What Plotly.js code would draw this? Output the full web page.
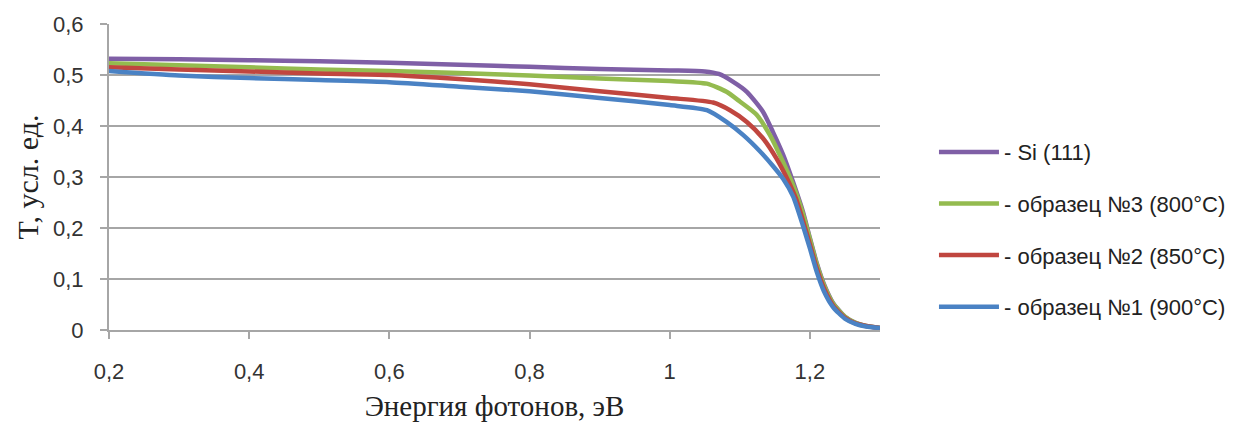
<!DOCTYPE html>
<html>
<head>
<meta charset="utf-8">
<script src="https://cdn.plot.ly/plotly-3.0.1.min.js"></script>
<style>html,body{margin:0;padding:0;background:#fff;}#chart{width:1243px;height:434px;}</style>
</head>
<body>
<div id="chart"></div>
<script>
const energySi = [0.2, 0.3, 0.4, 0.5, 0.6, 0.7, 0.8, 0.9, 1.0, 1.05, 1.07, 1.09, 1.11, 1.133, 1.147, 1.162, 1.176, 1.19, 1.2, 1.21, 1.22, 1.233, 1.25, 1.265, 1.28, 1.3];
const si111 = [0.532, 0.531, 0.529, 0.527, 0.524, 0.520, 0.516, 0.512, 0.509, 0.507, 0.502, 0.487, 0.467, 0.428, 0.389, 0.343, 0.290, 0.232, 0.180, 0.130, 0.090, 0.053, 0.026, 0.014, 0.008, 0.004];
const energy3 = [0.2, 0.3, 0.4, 0.5, 0.6, 0.7, 0.8, 0.9, 1.0, 1.053, 1.081, 1.1, 1.124, 1.143, 1.157, 1.176, 1.19, 1.2, 1.21, 1.22, 1.233, 1.25, 1.265, 1.28, 1.3];
const sample3 = [0.523, 0.519, 0.515, 0.511, 0.508, 0.504, 0.499, 0.493, 0.488, 0.483, 0.467, 0.448, 0.422, 0.382, 0.343, 0.284, 0.228, 0.178, 0.128, 0.088, 0.052, 0.026, 0.014, 0.008, 0.004];
const energy2 = [0.2, 0.3, 0.4, 0.5, 0.6, 0.7, 0.8, 0.9, 1.0, 1.062, 1.086, 1.11, 1.133, 1.152, 1.167, 1.18, 1.19, 1.2, 1.21, 1.22, 1.233, 1.25, 1.265, 1.28, 1.3];
const sample2 = [0.515, 0.511, 0.507, 0.503, 0.500, 0.492, 0.482, 0.468, 0.455, 0.446, 0.431, 0.408, 0.376, 0.337, 0.298, 0.258, 0.215, 0.168, 0.120, 0.082, 0.048, 0.024, 0.013, 0.008, 0.004];
const energy1 = [0.2, 0.3, 0.4, 0.5, 0.6, 0.7, 0.8, 0.9, 1.0, 1.053, 1.081, 1.105, 1.129, 1.147, 1.162, 1.176, 1.19, 1.2, 1.21, 1.22, 1.233, 1.25, 1.265, 1.28, 1.3];
const sample1 = [0.508, 0.499, 0.494, 0.490, 0.486, 0.477, 0.468, 0.455, 0.441, 0.431, 0.408, 0.382, 0.350, 0.322, 0.296, 0.262, 0.205, 0.160, 0.113, 0.076, 0.045, 0.022, 0.012, 0.007, 0.004];
const seriesNames = ['- Si (111)', '- образец №3 (800°C)', '- образец №2 (850°C)', '- образец №1 (900°C)'];
const seriesColors = ['#7f5fa6', '#94bb4f', '#c0463f', '#4a82c4'];
const xTicks = [0.2, 0.4, 0.6, 0.8, 1.0, 1.2];
const xTickText = ['0,2', '0,4', '0,6', '0,8', '1', '1,2'];
const yTicks = [0, 0.1, 0.2, 0.3, 0.4, 0.5, 0.6];
const yTickText = ['0', '0,1', '0,2', '0,3', '0,4', '0,5', '0,6'];

const allX = [energySi, energy3, energy2, energy1];
const allY = [si111, sample3, sample2, sample1];
const traces = allY.map((ys, i) => ({
  x: allX[i], y: ys, type: 'scatter', mode: 'lines', name: seriesNames[i], legendgroup: 'g' + i,
  line: {color: seriesColors[i], width: 4.5, shape: 'spline', smoothing: 0.6}
}));

const tickFont = {family: '"Liberation Sans", Arial, sans-serif', size: 22, color: '#333'};
const layout = {
  width: 1243, height: 434,
  margin: {l: 109, r: 363, t: 24, b: 104},
  paper_bgcolor: '#fff', plot_bgcolor: '#fff',
  showlegend: true,
  legend: {x: 1.07, y: 0.65, xanchor: 'left', yanchor: 'top', tracegroupgap: 20, itemwidth: 60,
    font: {family: '"Liberation Sans", Arial, sans-serif', size: 22, color: '#222'}, bgcolor: 'rgba(0,0,0,0)'},
  xaxis: {range: [0.2, 1.3], tickvals: xTicks, ticktext: xTickText, showgrid: false, zeroline: false,
    showline: true, linecolor: '#a6a6a6', linewidth: 2, ticks: 'outside', ticklen: 7, tickcolor: '#a6a6a6', tickwidth: 2,
    ticklabelstandoff: 14, tickfont: tickFont,
    title: {text: 'Энергия фотонов, эВ', font: {family: '"Liberation Serif", "Times New Roman", serif', size: 29, color: '#222'}, standoff: 12}},
  yaxis: {range: [0, 0.6], tickvals: yTicks, ticktext: yTickText, showgrid: true, gridcolor: '#a6a6a6', gridwidth: 2, zeroline: false,
    showline: true, linecolor: '#a6a6a6', linewidth: 2, ticks: 'outside', ticklen: 7, tickcolor: '#a6a6a6', tickwidth: 2,
    ticklabelstandoff: 12, tickfont: tickFont,
    title: {text: 'T, усл. ед.', font: {family: '"Liberation Serif", "Times New Roman", serif', size: 30, color: '#222'}, standoff: 6}}
};
Plotly.newPlot('chart', traces, layout, {displayModeBar: false, staticPlot: true});
</script>
</body>
</html>
